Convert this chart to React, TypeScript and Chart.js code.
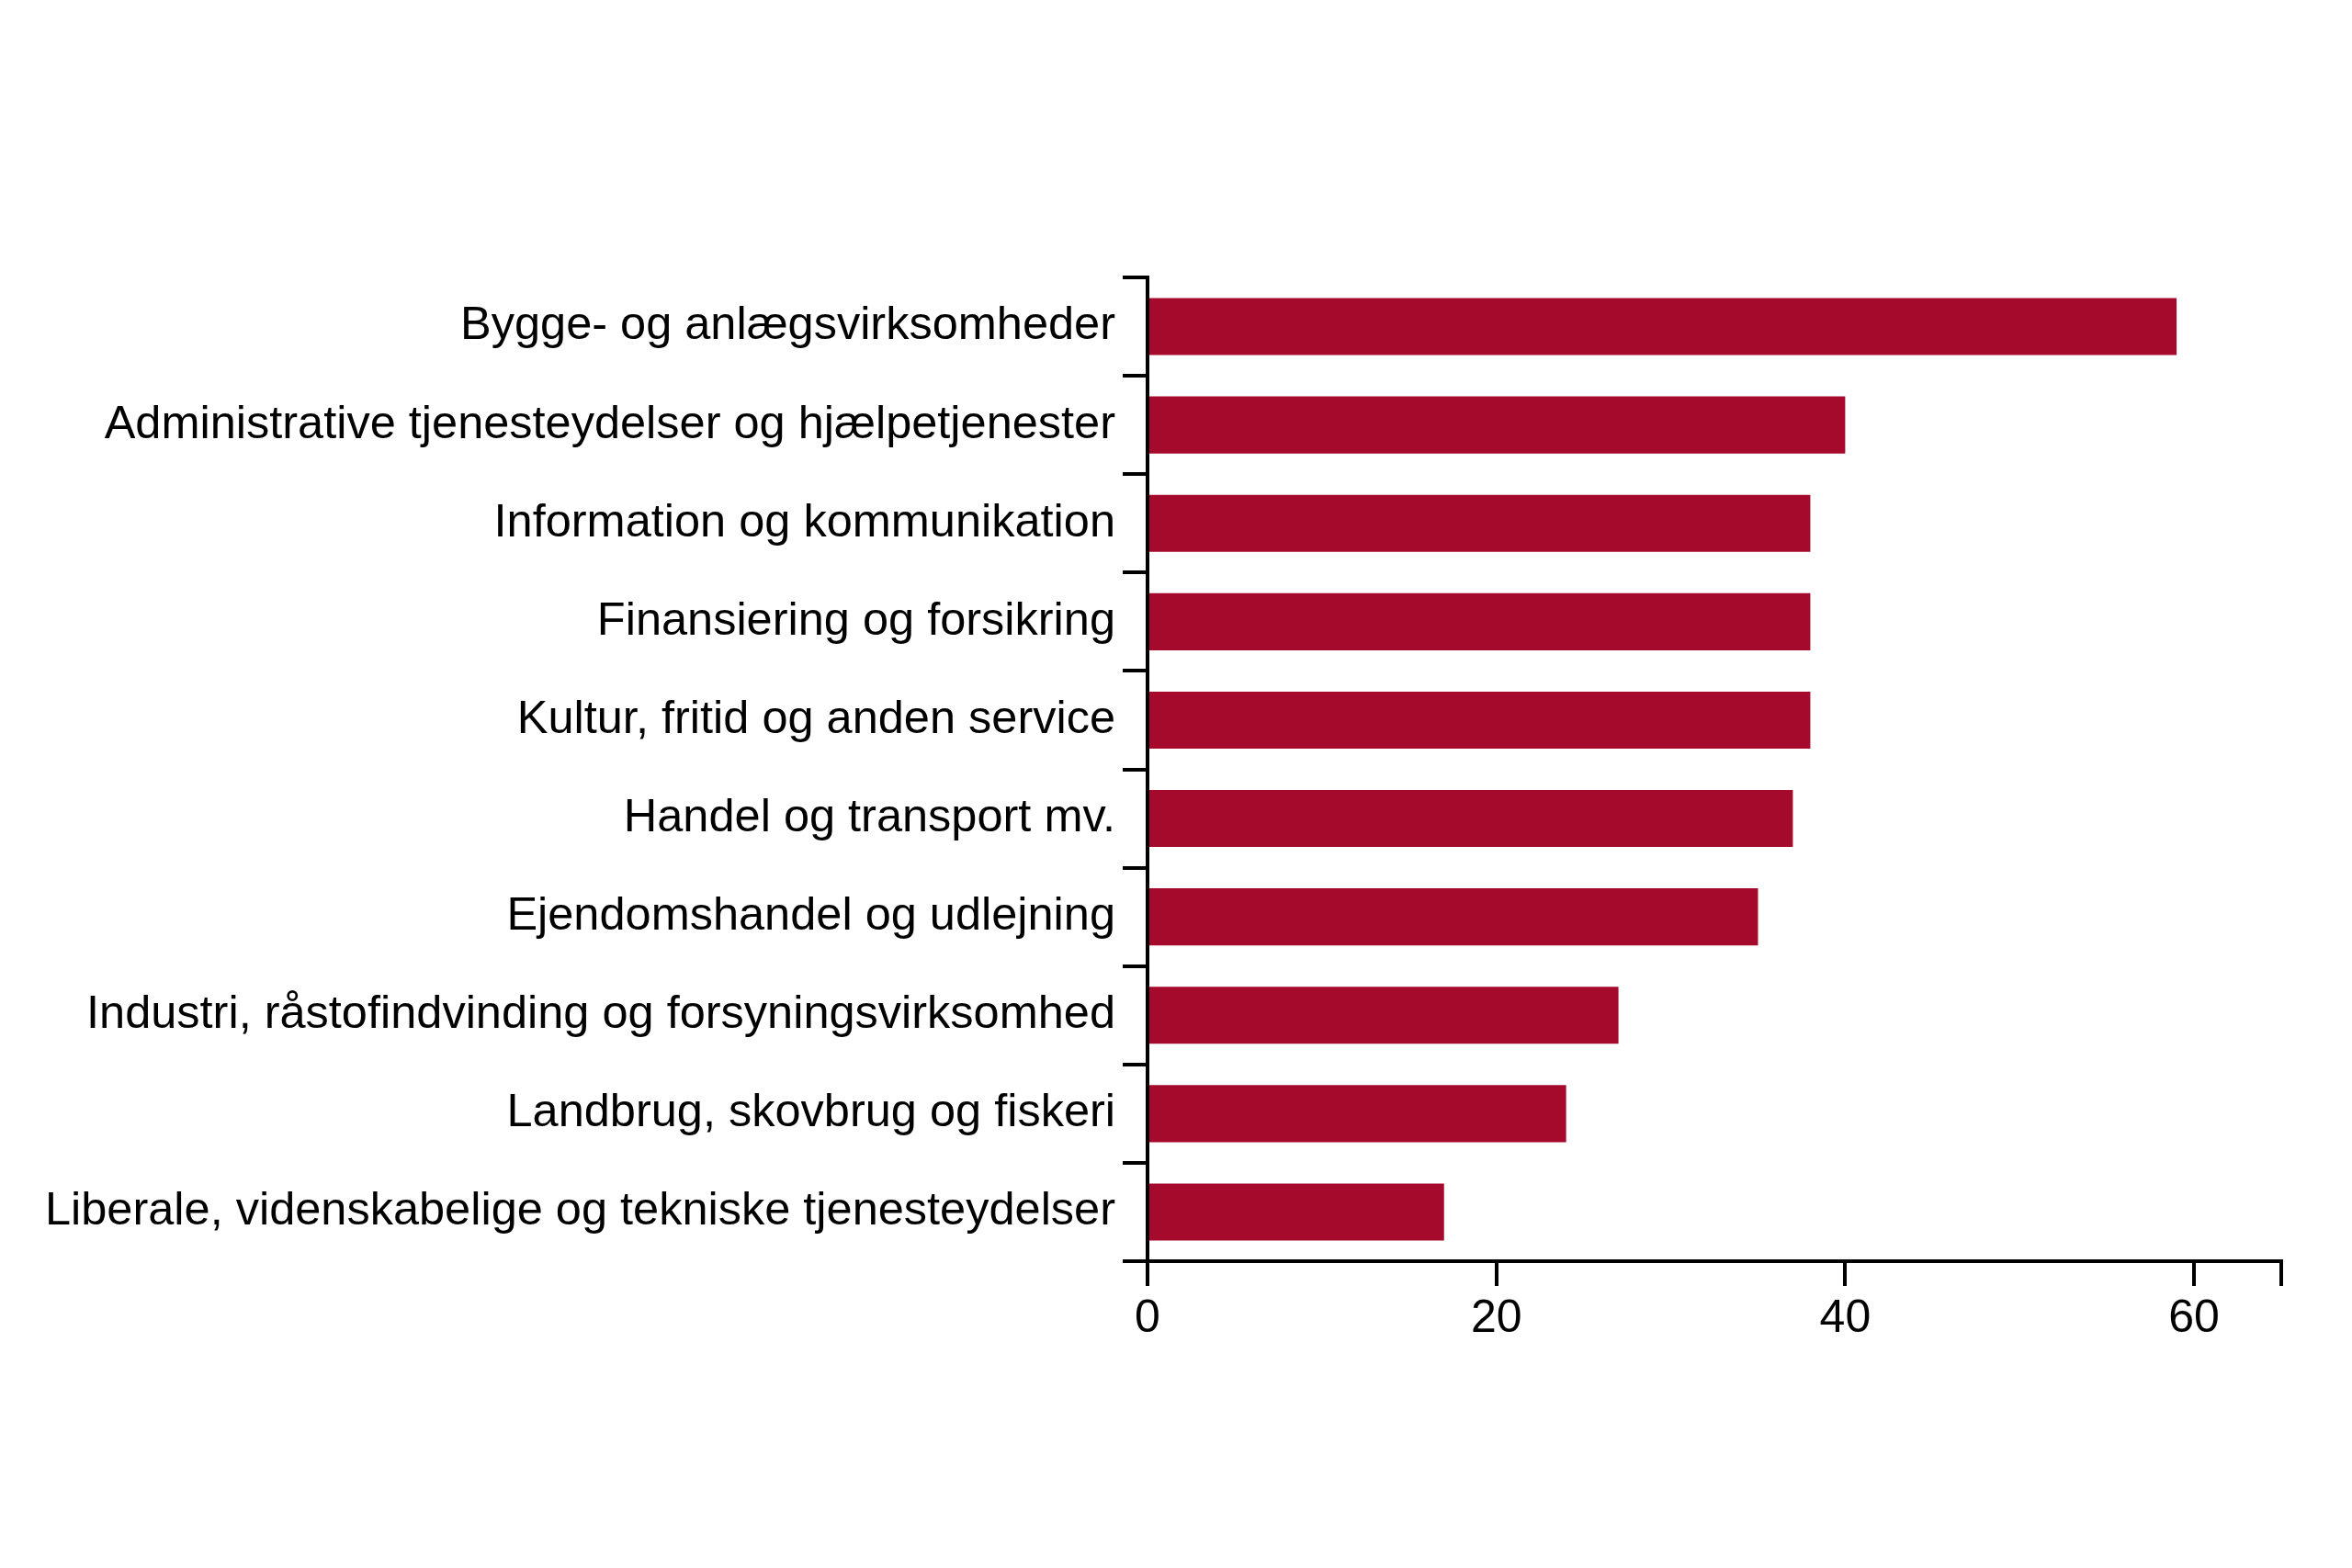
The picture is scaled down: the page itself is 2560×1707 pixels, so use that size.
import React, { useEffect, useRef } from 'react';
import { Chart, registerables } from 'chart.js';

Chart.register(...registerables);

// Industries (top to bottom) and their values
const categories = [
  'Bygge- og anlægsvirksomheder',
  'Administrative tjenesteydelser og hjælpetjenester',
  'Information og kommunikation',
  'Finansiering og forsikring',
  'Kultur, fritid og anden service',
  'Handel og transport mv.',
  'Ejendomshandel og udlejning',
  'Industri, råstofindvinding og forsyningsvirksomhed',
  'Landbrug, skovbrug og fiskeri',
  'Liberale, videnskabelige og tekniske tjenesteydelser',
];
const values = [59, 40, 38, 38, 38, 37, 35, 27, 24, 17];
const xTickValues = [0, 20, 40, 60];
const xAxisMax = 65;

const BAR_COLOR = '#A50A2C';
const FONT = '"Liberation Sans", Arial, sans-serif';

const App: React.FC = () => {
  const canvasRef = useRef<HTMLCanvasElement | null>(null);

  useEffect(() => {
    if (!canvasRef.current) return;
    const chart = new Chart(canvasRef.current, {
      type: 'bar',
      data: {
        labels: categories,
        datasets: [{
          data: values,
          backgroundColor: BAR_COLOR,
          borderWidth: 0,
          barPercentage: 0.58,
          categoryPercentage: 1,
        }],
      },
      options: {
        indexAxis: 'y',
        responsive: false,
        animation: false,
        devicePixelRatio: 1,
        layout: { padding: { top: 302, right: 77, bottom: 184, left: 0 } },
        plugins: { legend: { display: false }, tooltip: { enabled: false } },
        scales: {
          x: {
            min: 0,
            max: xAxisMax,
            // fixed ticks so 60 stays and the axis still ends at 65
            afterBuildTicks: (scale: any) => {
              scale.ticks = [...xTickValues, xAxisMax].map((v) => ({ value: v }));
            },
            afterFit: (scale: any) => { scale.height = 150; },
            ticks: {
              color: '#000',
              font: { family: FONT, size: 50 },
              padding: 6,
              maxRotation: 0,
              callback: (v: any) => (xTickValues.includes(Number(v)) ? String(v) : ''),
            },
            grid: { drawOnChartArea: false, drawTicks: true, tickLength: 27, color: '#000', lineWidth: 4 },
            border: { display: true, color: '#000', width: 4 },
          },
          y: {
            afterFit: (scale: any) => { scale.width = 1249; },
            ticks: {
              color: '#000',
              font: { family: FONT, size: 50.5 },
              padding: 8,
            },
            grid: { offset: true, drawOnChartArea: false, drawTicks: true, tickLength: 27, color: '#000', lineWidth: 4 },
            border: { display: true, color: '#000', width: 4 },
          },
        },
      },
    });
    return () => chart.destroy();
  }, []);

  return (
    <div style={{ position: 'fixed', left: 0, top: 0, width: 2560, height: 1707, background: '#fff' }}>
      <canvas ref={canvasRef} width={2560} height={1707} style={{ width: 2560, height: 1707 }} />
    </div>
  );
};

export default App;
